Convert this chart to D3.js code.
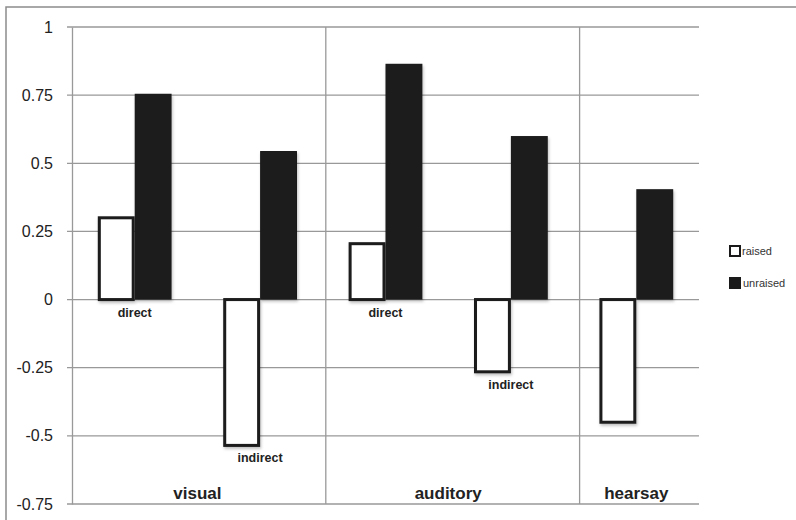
<!DOCTYPE html>
<html>
<head>
<meta charset="utf-8">
<script src="https://cdn.jsdelivr.net/npm/d3@7"></script>
<style>
    body { margin: 0; background: #fff; }
    svg { display: block; font-family: "Liberation Sans", Arial, sans-serif; }
</style>
</head>
<body>
<div id="chart"></div>
<script>
const width = 796;
const height = 520;

// Data
const groups = ["visual", "auditory", "hearsay"];
const subcategories = ["visual direct", "visual indirect", "auditory direct", "auditory indirect", "hearsay"];
const subGroupOf = ["visual", "visual", "auditory", "auditory", "hearsay"];
const subLabels = ["direct", "indirect", "direct", "indirect", ""];
const series = ["raised", "unraised"];
const raised = [0.30, -0.535, 0.205, -0.265, -0.45];
const unraised = [0.755, 0.545, 0.865, 0.60, 0.405];
const yTicks = [1, 0.75, 0.5, 0.25, 0, -0.25, -0.5, -0.75];

const margin = { top: 27, right: 97, bottom: 16, left: 72 };

const svg = d3.select("#chart")
    .append("svg")
    .attr("width", width)
    .attr("height", height);

// soft shadow under the bars
const defs = svg.append("defs");
defs.append("filter")
    .attr("id", "shadow")
    .attr("x", "-20%").attr("y", "-20%")
    .attr("width", "140%").attr("height", "140%")
    .append("feDropShadow")
    .attr("dx", 1).attr("dy", 2)
    .attr("stdDeviation", 1.5)
    .attr("flood-color", "#000")
    .attr("flood-opacity", 0.25);

// outer frame (top and left edges visible)
svg.append("path")
    .attr("d", `M6,${height} V7 H${width}`)
    .attr("fill", "none")
    .attr("stroke", "#8c8c8c")
    .attr("stroke-width", 1.5);

const x0 = d3.scaleBand()
    .domain(subcategories)
    .range([margin.left, width - margin.right])
    .padding(0);

const x1 = d3.scaleBand()
    .domain(series)
    .range([0, x0.bandwidth()])
    .paddingInner(0)
    .paddingOuter(0.7);

const y = d3.scaleLinear()
    .domain([-0.75, 1])
    .range([height - margin.bottom, margin.top]);

// horizontal gridlines + ticks
svg.append("g")
    .attr("class", "grid")
    .selectAll("line")
    .data(yTicks)
    .join("line")
    .attr("x1", margin.left - 5)
    .attr("x2", width - margin.right)
    .attr("y1", d => y(d))
    .attr("y2", d => y(d))
    .attr("stroke", "#999")
    .attr("stroke-width", 1.3);

// y axis
const yAxis = svg.append("g")
    .attr("transform", `translate(${margin.left},0)`)
    .call(d3.axisLeft(y).tickValues(yTicks).tickSize(0).tickPadding(19)
        .tickFormat(d => String(d)));
yAxis.select(".domain")
    .attr("stroke", "#999")
    .attr("stroke-width", 1.3);
yAxis.selectAll("text")
    .attr("font-size", 16)
    .attr("fill", "#222")
    .attr("font-family", "\"Liberation Sans\", Arial, sans-serif");

// group separators
const groupExtent = groups.map(g => {
    const subs = subcategories.filter((s, i) => subGroupOf[i] === g);
    return {
        name: g,
        x0: x0(subs[0]),
        x1: x0(subs[subs.length - 1]) + x0.bandwidth()
    };
});

svg.append("g")
    .selectAll("line")
    .data(groupExtent.slice(0, -1))
    .join("line")
    .attr("x1", (d, i) => d.x1 + 3 + i * 3)
    .attr("x2", (d, i) => d.x1 + 3 + i * 3)
    .attr("y1", y(1))
    .attr("y2", y(-0.75))
    .attr("stroke", "#999")
    .attr("stroke-width", 1.3);

// bars
const rows = subcategories.map((s, i) => ({
    key: s,
    label: subLabels[i],
    values: [
        { series: "raised", value: raised[i] },
        { series: "unraised", value: unraised[i] }
    ]
}));

const barGroups = svg.append("g")
    .selectAll("g")
    .data(rows)
    .join("g")
    .attr("transform", d => `translate(${x0(d.key)},0)`);

barGroups.selectAll("rect")
    .data(d => d.values)
    .join("rect")
    .attr("x", d => x1(d.series) + (d.series === "raised" ? 1.5 : 0))
    .attr("width", d => x1.bandwidth() - (d.series === "raised" ? 3 : 0))
    .attr("y", d => y(Math.max(0, d.value)))
    .attr("height", d => Math.abs(y(d.value) - y(0)))
    .attr("fill", d => d.series === "raised" ? "#fff" : "#1a1a1a")
    .attr("stroke", d => d.series === "raised" ? "#1a1a1a" : "none")
    .attr("stroke-width", 3)
    .attr("filter", "url(#shadow)");

// sub-category labels under each pair
barGroups.append("text")
    .attr("x", x0.bandwidth() / 2)
    .attr("y", d => y(Math.min(0, d3.min(d.values, v => v.value))) + 17)
    .attr("text-anchor", "middle")
    .attr("font-size", 12.5)
    .attr("font-weight", "bold")
    .attr("fill", "#222")
    .text(d => d.label);

// group labels along the bottom
svg.append("g")
    .selectAll("text")
    .data(groupExtent)
    .join("text")
    .attr("x", d => (d.x0 + d.x1) / 2)
    .attr("y", y(-0.75) - 5)
    .attr("text-anchor", "middle")
    .attr("font-size", 17)
    .attr("font-weight", "bold")
    .attr("fill", "#222")
    .text(d => d.name);

// legend
const legend = svg.append("g")
    .attr("transform", "translate(729,245)");

const legendItem = legend.selectAll("g")
    .data(series)
    .join("g")
    .attr("transform", (d, i) => `translate(0,${i * 32})`);

legendItem.append("rect")
    .attr("x", d => d === "raised" ? 1 : 0)
    .attr("y", d => d === "raised" ? 1 : 0)
    .attr("width", d => d === "raised" ? 10 : 12)
    .attr("height", d => d === "raised" ? 10 : 12)
    .attr("fill", d => d === "raised" ? "#fff" : "#1a1a1a")
    .attr("stroke", d => d === "raised" ? "#1a1a1a" : "none")
    .attr("stroke-width", 2);

legendItem.append("text")
    .attr("x", d => d === "raised" ? 13 : 14)
    .attr("y", 10)
    .attr("font-size", 11)
    .attr("fill", "#333")
    .text(d => d);
</script>
</body>
</html>
